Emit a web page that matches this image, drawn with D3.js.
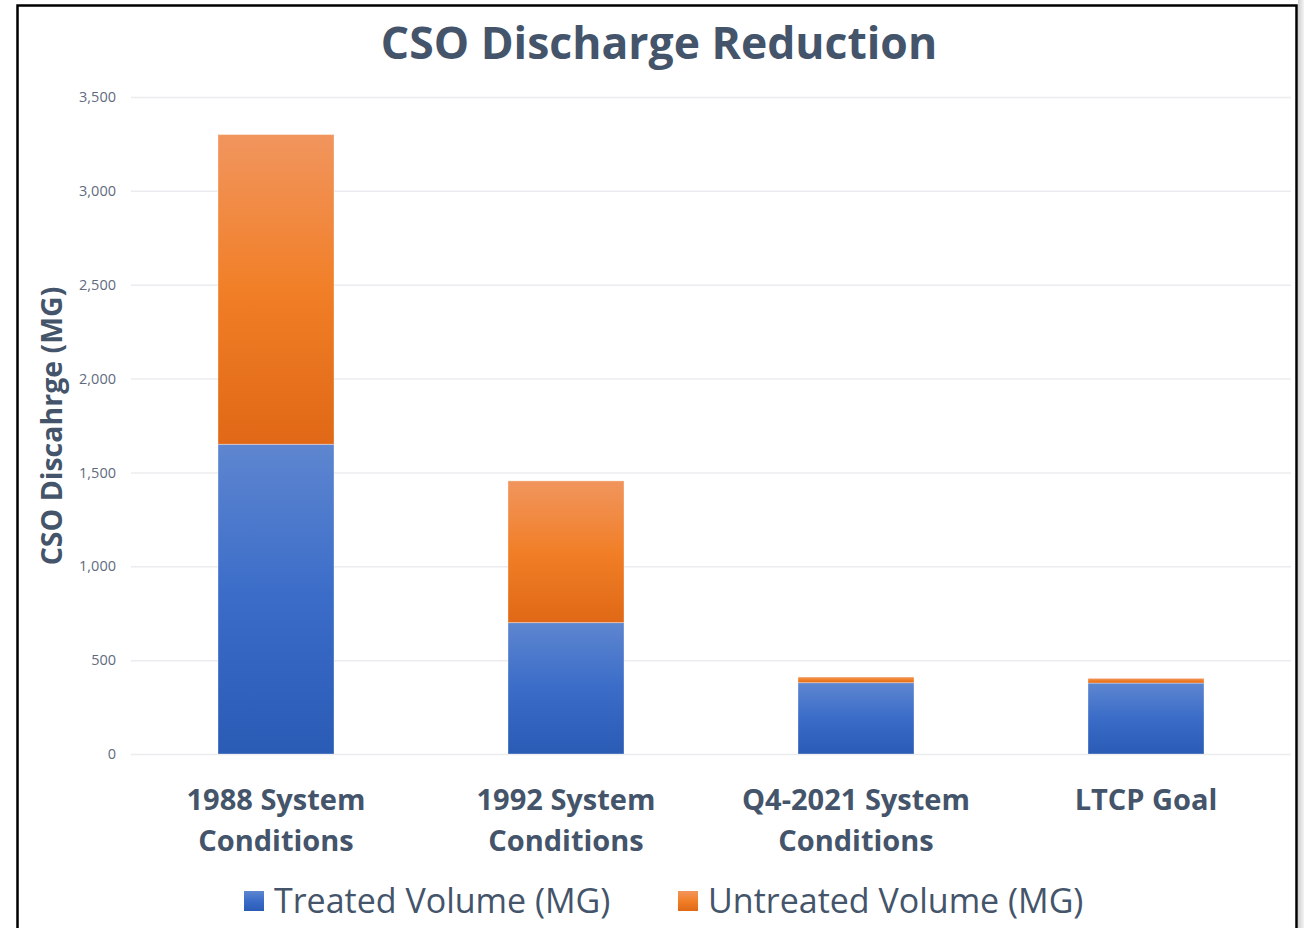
<!DOCTYPE html>
<html>
<head>
<meta charset="utf-8">
<script src="https://cdn.jsdelivr.net/npm/d3@7"></script>
<style>
body { margin: 0; background: #fff; }
</style>
</head>
<body>
<div id="chart"></div>
<script>
// データ
const categories = [['1988 System', 'Conditions'], ['1992 System', 'Conditions'], ['Q4-2021 System', 'Conditions'], ['LTCP Goal']];
const treated = [1650, 700, 380, 378];
const untreated = [1650, 755, 30, 25];
const yTicks = [0, 500, 1000, 1500, 2000, 2500, 3000, 3500];
const seriesNames = ['Treated Volume (MG)', 'Untreated Volume (MG)'];

// SVG全体
const W = 1304, H = 928;
const PLOT = {left: 131, right: 1291, top: 97, bottom: 754};
const FONT = '"Open Sans", "Noto Sans", sans-serif';
const SLATE = '#44546A';

const svg = d3.select('#chart').append('svg')
    .attr('width', W).attr('height', H);

// グラデーション
const defs = svg.append('defs');
const grads = [
    {id: 'g_blue', stops: ['#5E86D0', '#3A6CC8', '#2A5BB5']},
    {id: 'g_orange', stops: ['#F1955E', '#F17F27', '#E06816']}
];
grads.forEach(g => {
    const lg = defs.append('linearGradient').attr('id', g.id)
        .attr('x1', 0).attr('y1', 0).attr('x2', 0).attr('y2', 1);
    g.stops.forEach((c, i) => lg.append('stop').attr('offset', i / 2).attr('stop-color', c));
});

// 右端の影
const shadow = defs.append('linearGradient').attr('id', 'g_shadow')
    .attr('x1', 0).attr('x2', 1);
shadow.append('stop').attr('offset', 0).attr('stop-color', '#cfcfcf');
shadow.append('stop').attr('offset', 1).attr('stop-color', '#f4f4f4');
svg.append('rect').attr('x', 1298).attr('y', 0).attr('width', 6).attr('height', H)
    .attr('fill', 'url(#g_shadow)');

// 枠
svg.append('path')
    .attr('d', `M17.5,${H} V5.5 H1296.5 V${H}`)
    .attr('fill', 'none').attr('stroke', '#000').attr('stroke-width', 2.5);

// スケール
const x = d3.scaleBand().domain(d3.range(categories.length))
    .range([PLOT.left, PLOT.right]).paddingInner(0.6).paddingOuter(0.3);
const y = d3.scaleLinear().domain([0, 3500]).range([PLOT.bottom, PLOT.top]);

// グリッド
const yAxis = d3.axisLeft(y).tickValues(yTicks).tickFormat(d3.format(',')).tickSize(-(PLOT.right - PLOT.left)).tickPadding(15);
const gy = svg.append('g').attr('transform', `translate(${PLOT.left},0)`).call(yAxis);
gy.select('.domain').remove();
gy.selectAll('.tick line').attr('stroke', '#ECECF0').attr('stroke-width', 1.5);
gy.selectAll('.tick text').attr('fill', '#5F6B7D').attr('font-size', 14.5).attr('font-family', FONT);

// 棒
const stack = d3.stack().keys([0, 1])(categories.map((c, i) => ({0: treated[i], 1: untreated[i]})));
svg.append('g').selectAll('g').data(stack).join('g')
    .attr('fill', (d, i) => `url(#${grads[i].id})`)
    .selectAll('rect').data(d => d).join('rect')
    .attr('x', (d, i) => x(i))
    .attr('width', x.bandwidth())
    .attr('y', d => y(d[1]))
    .attr('height', d => y(d[0]) - y(d[1]))
    .attr('stroke', 'rgba(255,255,255,0.35)').attr('stroke-width', 1);

// カテゴリ
const cats = svg.append('g');
categories.forEach((lines, i) => {
    const t = cats.append('text')
        .attr('x', x(i) + x.bandwidth() / 2).attr('y', 810)
        .attr('text-anchor', 'middle')
        .attr('font-family', FONT).attr('font-weight', 'bold').attr('font-size', 29)
        .attr('fill', SLATE);
    lines.forEach((l, j) => t.append('tspan').attr('x', x(i) + x.bandwidth() / 2).attr('dy', j ? 41 : 0).text(l));
});

// タイトル
svg.append('text').text('CSO Discharge Reduction')
    .attr('x', 659).attr('y', 59).attr('text-anchor', 'middle')
    .attr('font-family', FONT).attr('font-weight', 'bold').attr('font-size', 44.5)
    .attr('fill', SLATE);

// 軸タイトル
svg.append('text').text('CSO Discahrge (MG)')
    .attr('transform', 'translate(62,426) rotate(-90)').attr('text-anchor', 'middle')
    .attr('font-family', FONT).attr('font-weight', 'bold').attr('font-size', 28.5)
    .attr('fill', SLATE);

// 凡例
const legendX = [244, 678];
seriesNames.forEach((name, i) => {
    svg.append('rect').attr('x', legendX[i]).attr('y', 891).attr('width', 20).attr('height', 20)
        .attr('fill', `url(#${grads[i].id})`);
    svg.append('text').text(name)
        .attr('x', legendX[i] + 30).attr('y', 913)
        .attr('font-family', FONT).attr('font-size', 34)
        .attr('fill', SLATE);
});
</script>
</body>
</html>
